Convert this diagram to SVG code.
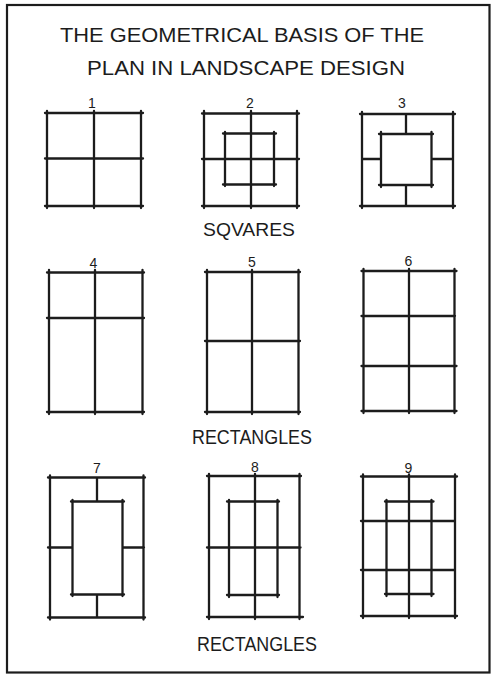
<svg xmlns="http://www.w3.org/2000/svg" width="500" height="680" viewBox="0 0 500 680">
<style>
.ln{stroke:#1c1c1c;stroke-width:2.3;stroke-linecap:round;fill:none}
.bd{stroke:#1c1c1c;stroke-width:2.2;fill:none}
.tt{font-family:"Liberation Sans","DejaVu Sans",sans-serif;fill:#1c1c1c;text-anchor:middle}
.num{font-family:"Liberation Sans","DejaVu Sans",sans-serif;font-size:14px;fill:#1c1c1c;text-anchor:middle}
</style>
<rect width="500" height="680" fill="#ffffff"/>
<rect class="bd" x="7" y="5" width="482.5" height="667.5"/>
<g id="title">
<text class="tt" x="242" y="42" font-size="20" textLength="364" lengthAdjust="spacingAndGlyphs">THE GEOMETRICAL BASIS OF THE</text>
<text class="tt" x="246" y="75" font-size="20" textLength="318" lengthAdjust="spacingAndGlyphs">PLAN IN LANDSCAPE DESIGN</text>
</g>
<g id="fig1">
<text class="num" x="92" y="108">1</text>
<path class="ln" d="M45 113H143M45 206H143M47 111V208M141 111V208M94 111V208M45 158.5H143"/>
</g>
<g id="fig2">
<text class="num" x="250" y="108">2</text>
<path class="ln" d="M202 113.5H299M202 206H299M204 111V208M297 111V208M251 111V208M202 159H299M223 133.5H276M223 184.5H276M225 132V186M274 132V186"/>
</g>
<g id="fig3">
<text class="num" x="402" y="108">3</text>
<path class="ln" d="M360 114H455M360 206H455M362 112V208M453 112V208M379 134H433M379 185H433M381 132V187M431.5 132V187M406 114V134M406 185V206M362 159H381M431.5 159H453"/>
</g>
<text id="lbl-squares" class="tt" x="249" y="236" font-size="19" textLength="92" lengthAdjust="spacingAndGlyphs">SQVARES</text>
<g id="fig4">
<text class="num" x="93.5" y="268">4</text>
<path class="ln" d="M47 272.5H144M47 412H144M49 270V414M142.5 270V414M95 270V414M47 318H144"/>
</g>
<g id="fig5">
<text class="num" x="252" y="267">5</text>
<path class="ln" d="M205 272H300M205 412H300M207 270V414M298.5 270V414M252 270V414M205 341H300"/>
</g>
<g id="fig6">
<text class="num" x="408.5" y="266">6</text>
<path class="ln" d="M361.5 271H456.5M361.5 411H456.5M363.5 269V413M454.5 269V413M409 269V413M361.5 316H455M361.5 366H456.5"/>
</g>
<text id="lbl-rect1" class="tt" x="252" y="443.5" font-size="20" textLength="120" lengthAdjust="spacingAndGlyphs">RECTANGLES</text>
<g id="fig7">
<text class="num" x="97" y="473">7</text>
<path class="ln" d="M48 477.5H145M48 617.5H145M50 475.5V619.5M143.5 475.5V619.5M71 501.5H124M71 594.5H124M72.5 500V596M122.5 500V596M97 477.5V501.5M97 594.5V617.5M48 547.5H72.5M122.5 547.5H144"/>
</g>
<g id="fig8">
<text class="num" x="255" y="472">8</text>
<path class="ln" d="M207 476H301M207 617H303M209 474V619M299.5 474V619M255 474V619M207 547.5H300.5M227 501.5H279M227 595H279M229 500V597M277.5 500V597"/>
</g>
<g id="fig9">
<text class="num" x="408.5" y="473">9</text>
<path class="ln" d="M361 476.5H457M361 616H457M363 474.5V618M455 474.5V618M409 474.5V618M361 521H455M361 570H455M385 501.5H433.5M385 594H433.5M386.5 500V596M431.5 500V596"/>
</g>
<text id="lbl-rect2" class="tt" x="257" y="650.5" font-size="20" textLength="120" lengthAdjust="spacingAndGlyphs">RECTANGLES</text>
</svg>
